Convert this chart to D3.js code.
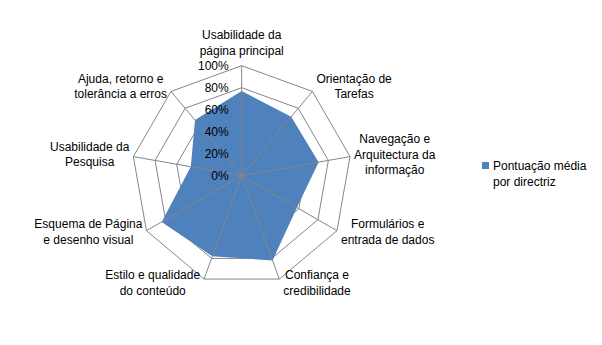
<!DOCTYPE html>
<html>
<head>
<meta charset="utf-8">
<script src="https://cdn.jsdelivr.net/npm/d3@7"></script>
<style>
  body { margin: 0; background: #fff; }
  text { font-family: "Liberation Sans", Arial, sans-serif; font-size: 12px; fill: #000; }
</style>
</head>
<body>
<svg id="radar" width="602" height="345"></svg>
<script>
// categories, clockwise from the top
const categories = [
  ["Usabilidade da", "página principal"],
  ["Orientação de", "Tarefas"],
  ["Navegação e", "Arquitectura da", "informação"],
  ["Formulários e", "entrada de dados"],
  ["Confiança e", "credibilidade"],
  ["Estilo e qualidade", "do conteúdo"],
  ["Esquema de Página", "e desenho visual"],
  ["Usabilidade da", "Pesquisa"],
  ["Ajuda, retorno e", "tolerância a erros"]
]
const seriesName = ["Pontuação média", "por directriz"]
const values = [0.77, 0.70, 0.71, 0.58, 0.82, 0.78, 0.84, 0.47, 0.66]
const ticks = [0, 0.2, 0.4, 0.6, 0.8, 1.0]

const svg = d3.select("#radar")
const cx = 241.7, cy = 175.7, radius = 110
const n = categories.length

let rScale = d3.scaleLinear().domain([0, 1]).range([0, radius])
let aScale = d3.scaleLinear().domain([0, n]).range([0, 2 * Math.PI])
const pt = (i, v) => [Math.sin(aScale(i)) * rScale(v), -Math.cos(aScale(i)) * rScale(v)]

let g = svg.append("g").attr("transform", `translate(${cx},${cy})`)

let radial = d3.lineRadial()
  .angle((d, i) => aScale(i))
  .radius(d => rScale(d))
  .curve(d3.curveLinearClosed)

// grid rings
ticks.filter(t => t > 0).forEach(t => {
  g.append("path")
    .attr("d", radial(d3.range(n).map(() => t)))
    .attr("fill", "none")
    .attr("stroke", "#868686")
    .attr("stroke-width", 1)
})

// series fill
g.append("path")
  .attr("d", radial(values))
  .attr("fill", "#4f81bd")

// spokes
g.selectAll("line.spoke")
  .data(d3.range(n))
  .enter().append("line")
  .attr("x1", 0).attr("y1", 0)
  .attr("x2", i => pt(i, 1)[0])
  .attr("y2", i => pt(i, 1)[1])
  .attr("stroke", "#868686")
  .attr("stroke-width", 1)

// tick labels
let fmt = d3.format(".0%")
g.selectAll("text.tick")
  .data(ticks)
  .enter().append("text")
  .attr("x", -13)
  .attr("y", d => -rScale(d))
  .attr("dy", "0.35em")
  .attr("text-anchor", "end")
  .text(d => fmt(d))

// category labels
const lineH = 15.5
categories.forEach((lines, i) => {
  let a = aScale(i)
  let [vx, vy] = pt(i, 1)
  let t = g.append("text").attr("text-anchor", "middle")
  lines.forEach((s, k) => {
    t.append("tspan").attr("x", 0).attr("dy", k === 0 ? 0 : lineH).text(s)
  })
  let w = d3.max(t.selectAll("tspan").nodes(), nd => nd.getComputedTextLength())
  let h = lines.length * lineH
  let sx = Math.sin(a), cyA = -Math.cos(a)
  let bx, by
  if (Math.abs(sx) < 0.1) {
    bx = vx
    by = vy - 6 - h
  } else {
    bx = sx > 0 ? vx + 4 + w / 2 : vx - 4 - w / 2
    by = vy + 5 * cyA - h / 2
  }
  t.attr("transform", `translate(${bx},${by + lineH / 2})`)
    .attr("dominant-baseline", "middle")
})

// legend
let leg = svg.append("g").attr("transform", "translate(482,162)")
leg.append("rect").attr("width", 7).attr("height", 7).attr("fill", "#4f81bd")
leg.selectAll("text")
  .data(seriesName)
  .enter().append("text")
  .attr("x", 11)
  .attr("y", (d, i) => 3.7 + i * 16)
  .attr("dy", "0.35em")
  .text(d => d)
</script>
</body>
</html>
